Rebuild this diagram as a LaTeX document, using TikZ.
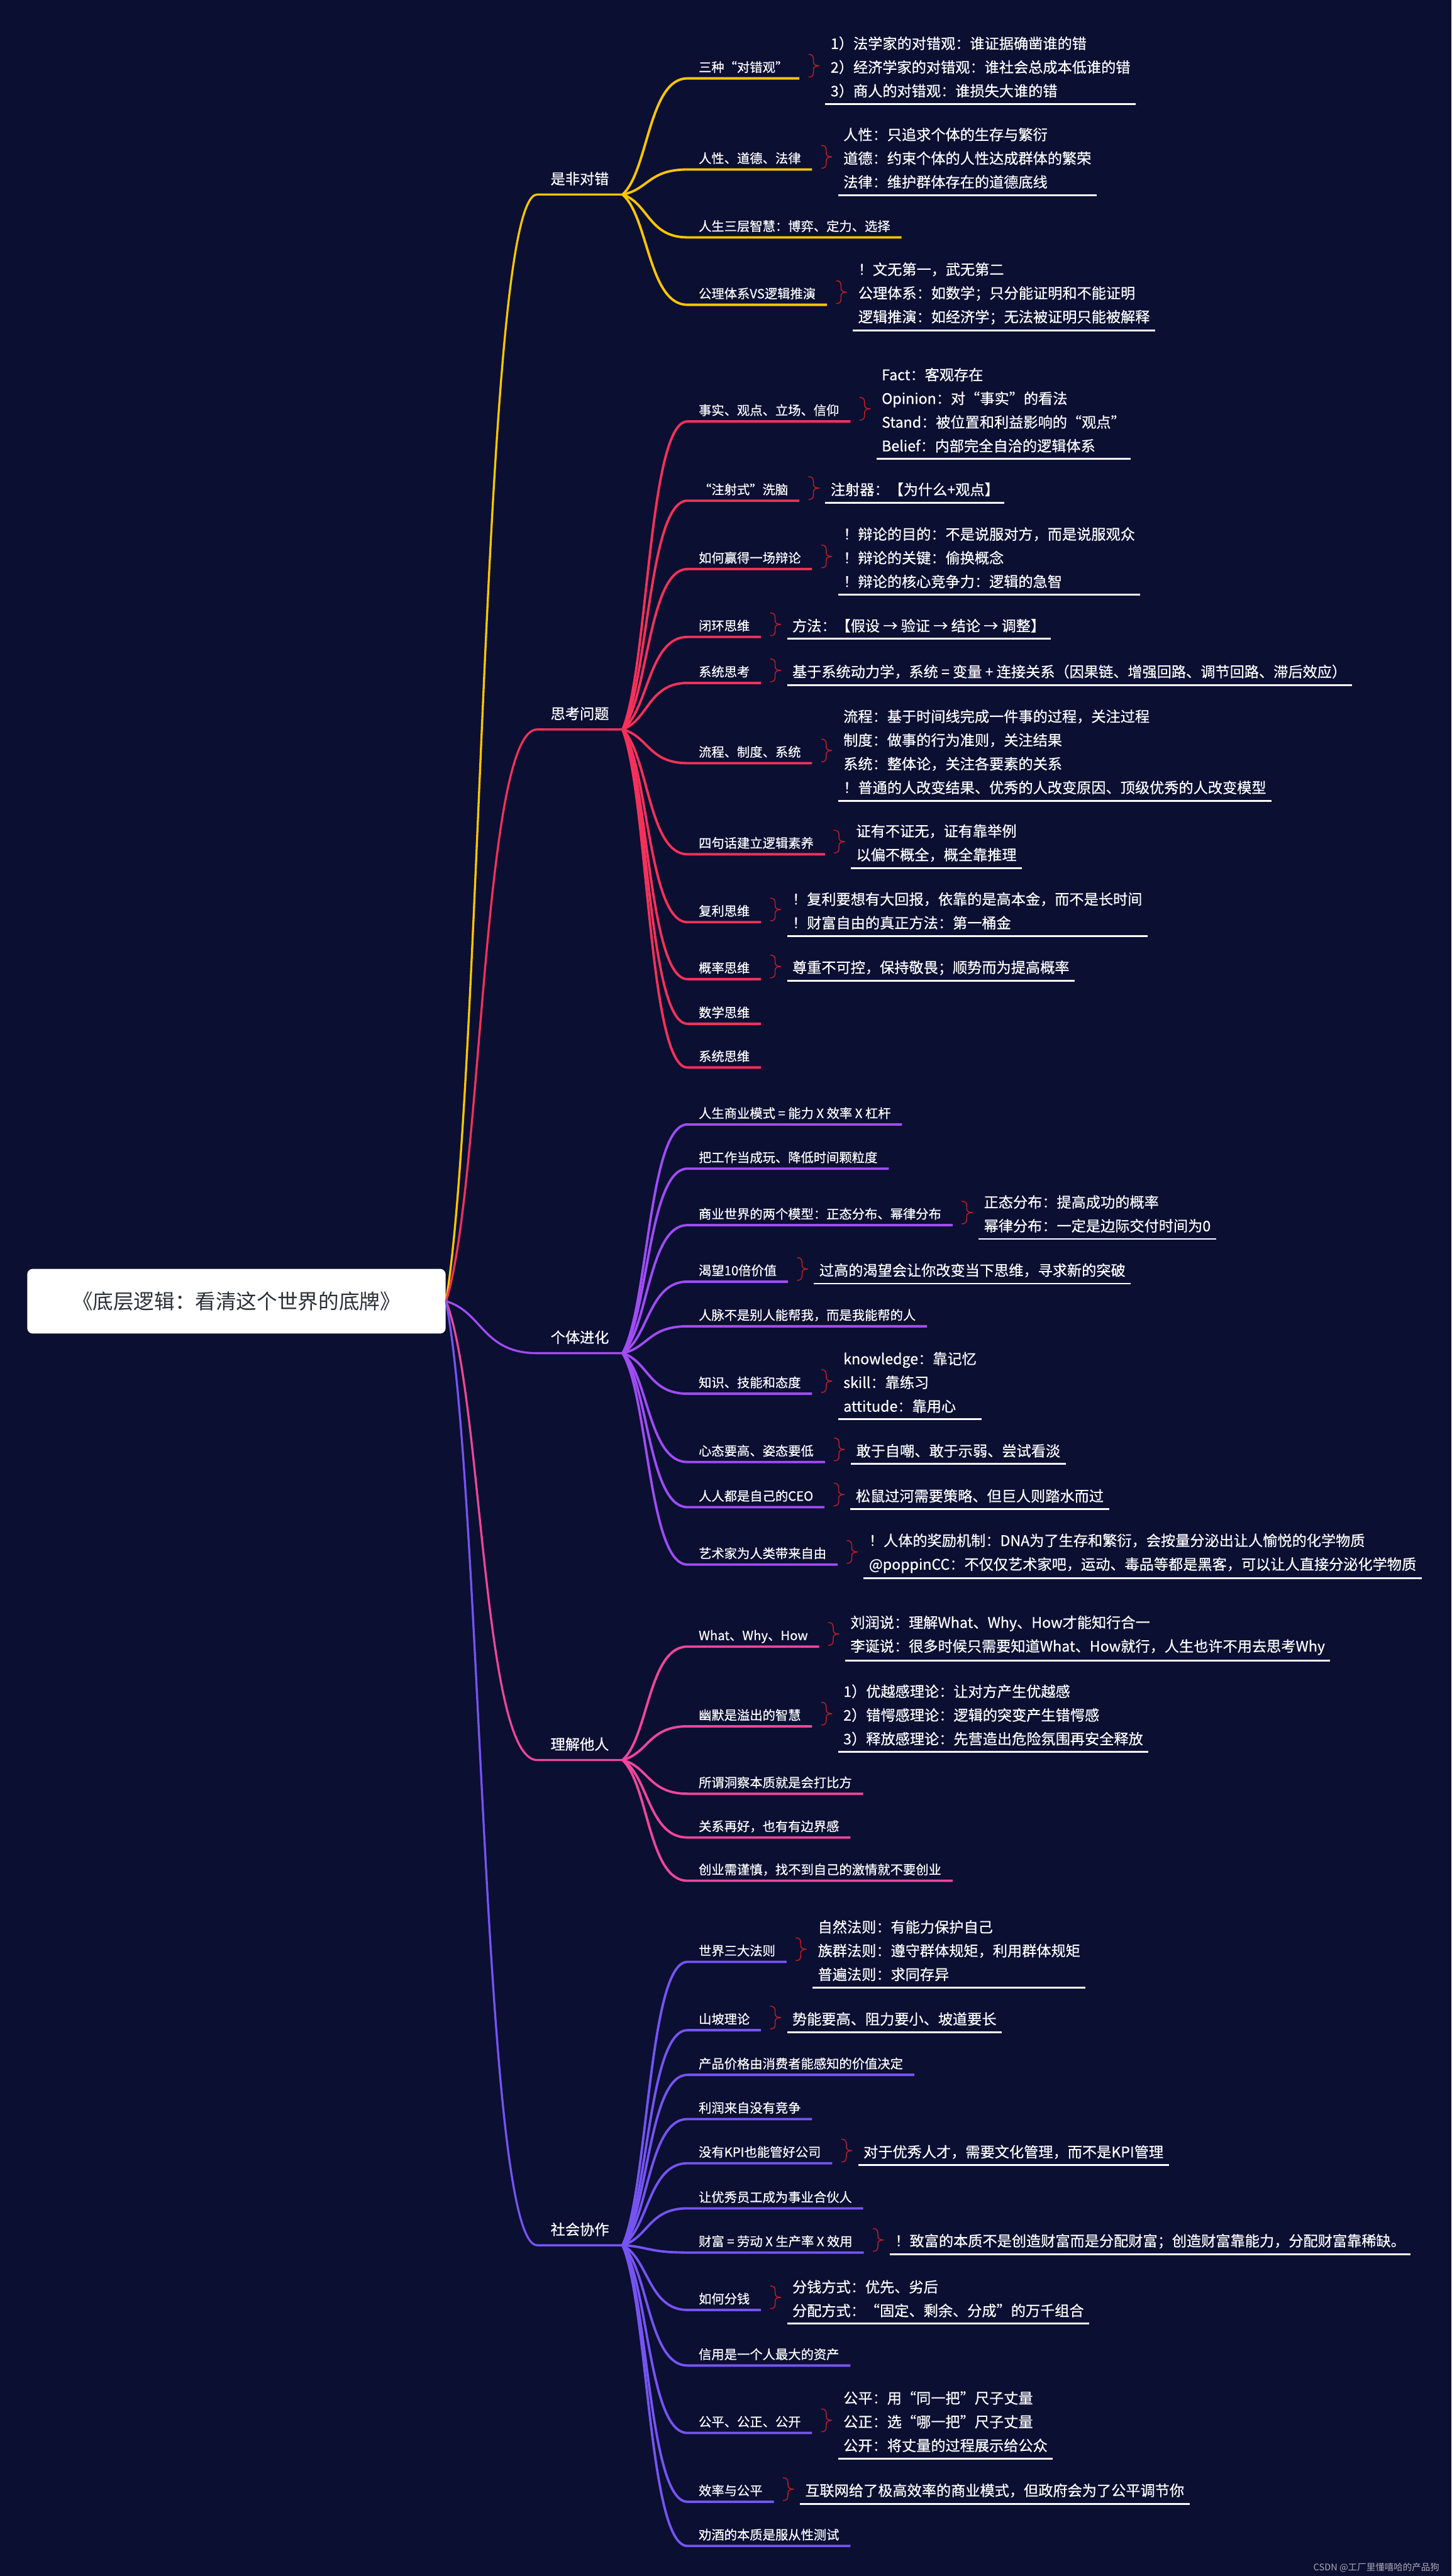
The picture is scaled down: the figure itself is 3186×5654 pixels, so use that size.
\documentclass[tikz,border=0pt]{standalone}
\usepackage{fontspec}
\setmainfont{Noto Sans CJK SC}
\newfontfamily\heavy{Noto Sans CJK SC}[FakeBold=0.5]
\usepackage{tikz}
\usetikzlibrary{positioning,calc}
\definecolor{bgnavy}{RGB}{11,15,50}
\definecolor{yel}{RGB}{255,198,0}
\definecolor{rose}{RGB}{245,49,90}
\definecolor{grape}{RGB}{160,76,245}
\definecolor{hotpink}{RGB}{240,70,155}
\definecolor{iris}{RGB}{118,84,242}
\definecolor{bracered}{RGB}{185,30,40}
\definecolor{inkgray}{RGB}{45,47,56}

\begin{document}
\begin{tikzpicture}[x=0.01cm,y=-0.01cm,
  hub/.style={fill=white,rounded corners=3.5pt,minimum width=9.18cm,minimum height=1.42cm,
    font=\fontsize{12.8pt}{14pt}\selectfont,text=inkgray},
  topic/.style={font=\heavy\fontsize{9.1pt}{11pt}\selectfont,text=white,inner xsep=0.29cm,inner ysep=0pt,
    text height=0.46cm,text depth=0.22cm,anchor=south west},
  item/.style={font=\heavy\fontsize{7.97pt}{9pt}\selectfont,text=white,inner xsep=0.24cm,inner ysep=0pt,
    text height=0.346cm,text depth=0.134cm,anchor=south west},
  note/.style={font=\heavy\fontsize{9.1pt}{14.8pt}\selectfont,text=white,align=left,inner xsep=0.11cm,inner ysep=0pt},
  trunk/.style={draw=#1,line width=1.3pt},
  twig/.style={draw=#1,line width=1.5pt},
  rule/.style={draw=white,line width=1.15pt},
  curly/.pic={\draw[bracered,line width=0.6pt] (0,-25) .. controls (9,-25) and (11,-21) .. (11,-13)
    -- (11,-8) .. controls (11,-3) and (15,0) .. (24,0) .. controls (15,0) and (11,3) .. (11,8)
    -- (11,13) .. controls (11,21) and (9,25) .. (0,25);},
  curvy/.style={to path={let \p1=(\tikztostart),\p2=(\tikztotarget) in
    .. controls ({\x1+0.4*(\x2-\x1)},{\y1+0.2*(\y2-\y1)}) and ({\x1+0.4*(\x2-\x1)},\y2) .. (\tikztotarget)}}]

\fill[bgnavy] (0,0) rectangle (3186,5654);
\useasboundingbox (0,0) rectangle (3186,5654);

\node[hub] (book) at (519,2856) {《底层逻辑：看清这个世界的底牌》};

% main topics
\node[topic] (t1) at (1179,427) {是非对错};
\node[topic] (t2) at (1179,1601) {思考问题};
\node[topic] (t3) at (1179,2970) {个体进化};
\node[topic] (t4) at (1179,3863) {理解他人};
\node[topic] (t5) at (1179,4928) {社会协作};
\draw[trunk=yel] (book.east) to[curvy] (t1.south west) -- (t1.south east);
\draw[trunk=rose] (book.east) to[curvy] (t2.south west) -- (t2.south east);
\draw[trunk=grape] (book.east) to[curvy] (t3.south west) -- (t3.south east);
\draw[trunk=hotpink] (book.east) to[curvy] (t4.south west) -- (t4.south east);
\draw[trunk=iris] (book.east) to[curvy] (t5.south west) -- (t5.south east);

% 是非对错
\node[item] (a1) at (1509,172) {三种“对错观”};
\node[item] (a2) at (1509,372) {人性、道德、法律};
\node[item] (a3) at (1509,521) {人生三层智慧：博弈、定力、选择};
\node[item] (a4) at (1509,669) {公理体系VS逻辑推演};
\foreach \s in {a1,a2,a3,a4}
  \draw[twig=yel] (t1.south east) to[curvy] (\s.south west) -- (\s.south east);

\node[note,right=0.57cm of a1] (a1x) {1）法学家的对错观：谁证据确凿谁的错\\2）经济学家的对错观：谁社会总成本低谁的错\\3）商人的对错观：谁损失大谁的错};
\pic at ([xshift=0.2cm,yshift=0.03cm]a1.east) {curly};
\draw[rule] ([yshift=-0.81cm]a1x.west) -- ([yshift=-0.81cm]a1x.east);

\node[note,right=0.57cm of a2] (a2x) {人性：只追求个体的生存与繁衍\\道德：约束个体的人性达成群体的繁荣\\法律：维护群体存在的道德底线};
\pic at ([xshift=0.2cm,yshift=0.03cm]a2.east) {curly};
\draw[rule] ([yshift=-0.81cm]a2x.west) -- ([yshift=-0.81cm]a2x.east);

\node[note,right=0.57cm of a4] (a4x) {！文无第一，武无第二\\公理体系：如数学；只分能证明和不能证明\\逻辑推演：如经济学；无法被证明只能被解释};
\pic at ([xshift=0.2cm,yshift=0.03cm]a4.east) {curly};
\draw[rule] ([yshift=-0.81cm]a4x.west) -- ([yshift=-0.81cm]a4x.east);

% 思考问题
\node[item] (b1) at (1509,925) {事实、观点、立场、信仰};
\node[item] (b2) at (1509,1099) {“注射式”洗脑};
\node[item] (b3) at (1509,1249) {如何赢得一场辩论};
\node[item] (b4) at (1509,1398) {闭环思维};
\node[item] (b5) at (1509,1499) {系统思考};
\node[item] (b6) at (1509,1675) {流程、制度、系统};
\node[item] (b7) at (1509,1875) {四句话建立逻辑素养};
\node[item] (b8) at (1509,2024) {复利思维};
\node[item] (b9) at (1509,2149) {概率思维};
\node[item] (b10) at (1509,2247) {数学思维};
\node[item] (b11) at (1509,2343) {系统思维};
\foreach \s in {b1,b2,b3,b4,b5,b6,b7,b8,b9,b10,b11}
  \draw[twig=rose] (t2.south east) to[curvy] (\s.south west) -- (\s.south east);

\node[note,right=0.57cm of b1] (b1x) {Fact：客观存在\\Opinion：对“事实”的看法\\Stand：被位置和利益影响的“观点”\\Belief：内部完全自洽的逻辑体系};
\pic at ([xshift=0.2cm,yshift=0.03cm]b1.east) {curly};
\draw[rule] ([yshift=-1.07cm]b1x.west) -- ([yshift=-1.07cm]b1x.east);

\node[note,right=0.57cm of b2] (b2x) {注射器：【为什么+观点】};
\pic at ([xshift=0.2cm,yshift=0.03cm]b2.east) {curly};
\draw[rule] ([yshift=-0.29cm]b2x.west) -- ([yshift=-0.29cm]b2x.east);

\node[note,right=0.57cm of b3] (b3x) {！辩论的目的：不是说服对方，而是说服观众\\！辩论的关键：偷换概念\\！辩论的核心竞争力：逻辑的急智};
\pic at ([xshift=0.2cm,yshift=0.03cm]b3.east) {curly};
\draw[rule] ([yshift=-0.81cm]b3x.west) -- ([yshift=-0.81cm]b3x.east);

\node[note,right=0.57cm of b4] (b4x) {方法：【假设 → 验证 → 结论 → 调整】};
\pic at ([xshift=0.2cm,yshift=0.03cm]b4.east) {curly};
\draw[rule] ([yshift=-0.29cm]b4x.west) -- ([yshift=-0.29cm]b4x.east);

\node[note,right=0.57cm of b5] (b5x) {基于系统动力学，系统 = 变量 + 连接关系（因果链、增强回路、调节回路、滞后效应）};
\pic at ([xshift=0.2cm,yshift=0.03cm]b5.east) {curly};
\draw[rule] ([yshift=-0.29cm]b5x.west) -- ([yshift=-0.29cm]b5x.east);

\node[note,right=0.57cm of b6] (b6x) {流程：基于时间线完成一件事的过程，关注过程\\制度：做事的行为准则，关注结果\\系统：整体论，关注各要素的关系\\！普通的人改变结果、优秀的人改变原因、顶级优秀的人改变模型};
\pic at ([xshift=0.2cm,yshift=0.03cm]b6.east) {curly};
\draw[rule] ([yshift=-1.07cm]b6x.west) -- ([yshift=-1.07cm]b6x.east);

\node[note,right=0.57cm of b7] (b7x) {证有不证无，证有靠举例\\以偏不概全，概全靠推理};
\pic at ([xshift=0.2cm,yshift=0.03cm]b7.east) {curly};
\draw[rule] ([yshift=-0.55cm]b7x.west) -- ([yshift=-0.55cm]b7x.east);

\node[note,right=0.57cm of b8] (b8x) {！复利要想有大回报，依靠的是高本金，而不是长时间\\！财富自由的真正方法：第一桶金};
\pic at ([xshift=0.2cm,yshift=0.03cm]b8.east) {curly};
\draw[rule] ([yshift=-0.55cm]b8x.west) -- ([yshift=-0.55cm]b8x.east);

\node[note,right=0.57cm of b9] (b9x) {尊重不可控，保持敬畏；顺势而为提高概率};
\pic at ([xshift=0.2cm,yshift=0.03cm]b9.east) {curly};
\draw[rule] ([yshift=-0.29cm]b9x.west) -- ([yshift=-0.29cm]b9x.east);

% 个体进化
\node[item] (c1) at (1509,2468) {人生商业模式 = 能力 X 效率 X 杠杆};
\node[item] (c2) at (1509,2565) {把工作当成玩、降低时间颗粒度};
\node[item] (c3) at (1509,2689) {商业世界的两个模型：正态分布、幂律分布};
\node[item] (c4) at (1509,2813) {渴望10倍价值};
\node[item] (c5) at (1509,2911) {人脉不是别人能帮我，而是我能帮的人};
\node[item] (c6) at (1509,3059) {知识、技能和态度};
\node[item] (c7) at (1509,3209) {心态要高、姿态要低};
\node[item] (c8) at (1509,3308) {人人都是自己的CEO};
\node[item] (c9) at (1509,3434) {艺术家为人类带来自由};
\foreach \s in {c1,c2,c3,c4,c5,c6,c7,c8,c9}
  \draw[twig=grape] (t3.south east) to[curvy] (\s.south west) -- (\s.south east);

\node[note,right=0.57cm of c3] (c3x) {正态分布：提高成功的概率\\幂律分布：一定是边际交付时间为0};
\pic at ([xshift=0.2cm,yshift=0.03cm]c3.east) {curly};
\draw[rule] ([yshift=-0.55cm]c3x.west) -- ([yshift=-0.55cm]c3x.east);

\node[note,right=0.57cm of c4] (c4x) {过高的渴望会让你改变当下思维，寻求新的突破};
\pic at ([xshift=0.2cm,yshift=0.03cm]c4.east) {curly};
\draw[rule] ([yshift=-0.29cm]c4x.west) -- ([yshift=-0.29cm]c4x.east);

\node[note,right=0.57cm of c6] (c6x) {knowledge：靠记忆\\skill：靠练习\\attitude：靠用心};
\pic at ([xshift=0.2cm,yshift=0.03cm]c6.east) {curly};
\draw[rule] ([yshift=-0.81cm]c6x.west) -- ([yshift=-0.81cm]c6x.east);

\node[note,right=0.57cm of c7] (c7x) {敢于自嘲、敢于示弱、尝试看淡};
\pic at ([xshift=0.2cm,yshift=0.03cm]c7.east) {curly};
\draw[rule] ([yshift=-0.29cm]c7x.west) -- ([yshift=-0.29cm]c7x.east);

\node[note,right=0.57cm of c8] (c8x) {松鼠过河需要策略、但巨人则踏水而过};
\pic at ([xshift=0.2cm,yshift=0.03cm]c8.east) {curly};
\draw[rule] ([yshift=-0.29cm]c8x.west) -- ([yshift=-0.29cm]c8x.east);

\node[note,right=0.57cm of c9] (c9x) {！人体的奖励机制：DNA为了生存和繁衍，会按量分泌出让人愉悦的化学物质\\@poppinCC：不仅仅艺术家吧，运动、毒品等都是黑客，可以让人直接分泌化学物质};
\pic at ([xshift=0.2cm,yshift=0.03cm]c9.east) {curly};
\draw[rule] ([yshift=-0.55cm]c9x.west) -- ([yshift=-0.55cm]c9x.east);

% 理解他人
\node[item] (d1) at (1509,3614) {What、Why、How};
\node[item] (d2) at (1509,3789) {幽默是溢出的智慧};
\node[item] (d3) at (1509,3937) {所谓洞察本质就是会打比方};
\node[item] (d4) at (1509,4033) {关系再好，也有有边界感};
\node[item] (d5) at (1509,4128) {创业需谨慎，找不到自己的激情就不要创业};
\foreach \s in {d1,d2,d3,d4,d5}
  \draw[twig=hotpink] (t4.south east) to[curvy] (\s.south west) -- (\s.south east);

\node[note,right=0.57cm of d1] (d1x) {刘润说：理解What、Why、How才能知行合一\\李诞说：很多时候只需要知道What、How就行，人生也许不用去思考Why};
\pic at ([xshift=0.2cm,yshift=0.03cm]d1.east) {curly};
\draw[rule] ([yshift=-0.55cm]d1x.west) -- ([yshift=-0.55cm]d1x.east);

\node[note,right=0.57cm of d2] (d2x) {1）优越感理论：让对方产生优越感\\2）错愕感理论：逻辑的突变产生错愕感\\3）释放感理论：先营造出危险氛围再安全释放};
\pic at ([xshift=0.2cm,yshift=0.03cm]d2.east) {curly};
\draw[rule] ([yshift=-0.81cm]d2x.west) -- ([yshift=-0.81cm]d2x.east);

% 社会协作
\node[item] (e1) at (1509,4306) {世界三大法则};
\node[item] (e2) at (1509,4456) {山坡理论};
\node[item] (e3) at (1509,4554) {产品价格由消费者能感知的价值决定};
\node[item] (e4) at (1509,4651) {利润来自没有竞争};
\node[item] (e5) at (1509,4748) {没有KPI也能管好公司};
\node[item] (e6) at (1509,4847) {让优秀员工成为事业合伙人};
\node[item] (e7) at (1509,4944) {财富 = 劳动 X 生产率 X 效用};
\node[item] (e8) at (1509,5070) {如何分钱};
\node[item] (e9) at (1509,5192) {信用是一个人最大的资产};
\node[item] (e10) at (1509,5340) {公平、公正、公开};
\node[item] (e11) at (1509,5491) {效率与公平};
\node[item] (e12) at (1509,5588) {劝酒的本质是服从性测试};
\foreach \s in {e1,e2,e3,e4,e5,e6,e7,e8,e9,e10,e11,e12}
  \draw[twig=iris] (t5.south east) to[curvy] (\s.south west) -- (\s.south east);

\node[note,right=0.57cm of e1] (e1x) {自然法则：有能力保护自己\\族群法则：遵守群体规矩，利用群体规矩\\普遍法则：求同存异};
\pic at ([xshift=0.2cm,yshift=0.03cm]e1.east) {curly};
\draw[rule] ([yshift=-0.81cm]e1x.west) -- ([yshift=-0.81cm]e1x.east);

\node[note,right=0.57cm of e2] (e2x) {势能要高、阻力要小、坡道要长};
\pic at ([xshift=0.2cm,yshift=0.03cm]e2.east) {curly};
\draw[rule] ([yshift=-0.29cm]e2x.west) -- ([yshift=-0.29cm]e2x.east);

\node[note,right=0.57cm of e5] (e5x) {对于优秀人才，需要文化管理，而不是KPI管理};
\pic at ([xshift=0.2cm,yshift=0.03cm]e5.east) {curly};
\draw[rule] ([yshift=-0.29cm]e5x.west) -- ([yshift=-0.29cm]e5x.east);

\node[note,right=0.57cm of e7] (e7x) {！致富的本质不是创造财富而是分配财富；创造财富靠能力，分配财富靠稀缺。};
\pic at ([xshift=0.2cm,yshift=0.03cm]e7.east) {curly};
\draw[rule] ([yshift=-0.29cm]e7x.west) -- ([yshift=-0.29cm]e7x.east);

\node[note,right=0.57cm of e8] (e8x) {分钱方式：优先、劣后\\分配方式：“固定、剩余、分成”的万千组合};
\pic at ([xshift=0.2cm,yshift=0.03cm]e8.east) {curly};
\draw[rule] ([yshift=-0.55cm]e8x.west) -- ([yshift=-0.55cm]e8x.east);

\node[note,right=0.57cm of e10] (e10x) {公平：用“同一把”尺子丈量\\公正：选“哪一把”尺子丈量\\公开：将丈量的过程展示给公众};
\pic at ([xshift=0.2cm,yshift=0.03cm]e10.east) {curly};
\draw[rule] ([yshift=-0.81cm]e10x.west) -- ([yshift=-0.81cm]e10x.east);

\node[note,right=0.57cm of e11] (e11x) {互联网给了极高效率的商业模式，但政府会为了公平调节你};
\pic at ([xshift=0.2cm,yshift=0.03cm]e11.east) {curly};
\draw[rule] ([yshift=-0.29cm]e11x.west) -- ([yshift=-0.29cm]e11x.east);

\node[font=\fontsize{5.7pt}{6pt}\selectfont,text=white!65!bgnavy,anchor=east] (mark) at (3172,5635) {CSDN @工厂里懂嘻哈的产品狗};
\end{tikzpicture}
\end{document}
